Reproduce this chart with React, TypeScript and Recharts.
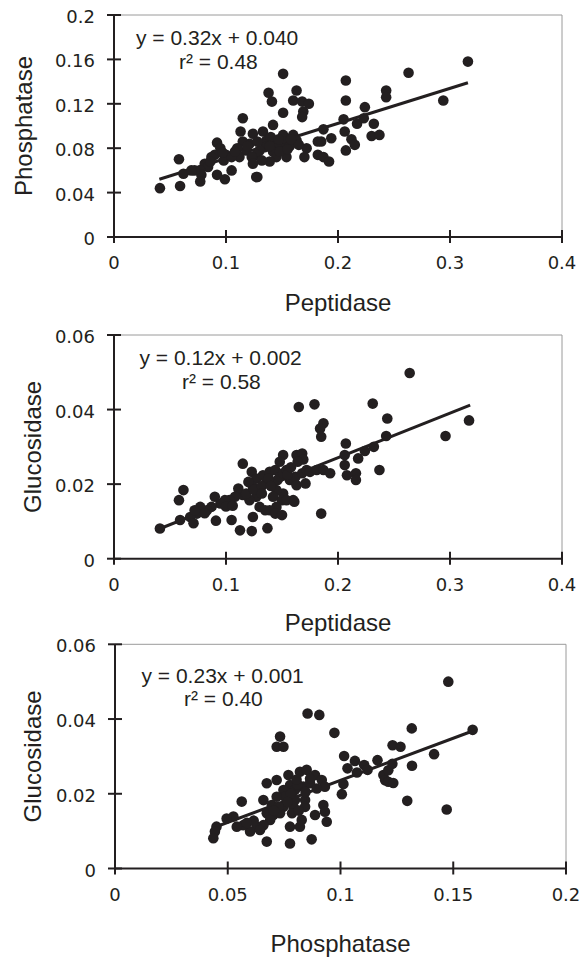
import { ScatterChart, Scatter, XAxis, YAxis, ReferenceLine } from 'recharts';

// x = peptidase, y = phosphatase
const peptidasePhosphatase: [number, number][] = [
  [0.151, 0.147], [0.138, 0.13], [0.141, 0.122], [0.163, 0.132], [0.16, 0.123],
  [0.168, 0.122], [0.174, 0.12], [0.169, 0.113], [0.168, 0.108], [0.151, 0.112],
  [0.207, 0.141], [0.207, 0.123], [0.115, 0.107], [0.142, 0.101], [0.205, 0.106],
  [0.187, 0.097], [0.194, 0.089], [0.206, 0.095], [0.207, 0.078], [0.182, 0.086],
  [0.185, 0.086], [0.172, 0.08], [0.182, 0.074], [0.187, 0.072], [0.192, 0.068],
  [0.17, 0.072], [0.16, 0.092], [0.163, 0.087], [0.151, 0.092], [0.154, 0.086],
  [0.15, 0.08], [0.157, 0.082], [0.145, 0.084], [0.142, 0.077], [0.145, 0.072],
  [0.139, 0.068], [0.133, 0.095], [0.136, 0.087], [0.135, 0.081], [0.13, 0.078],
  [0.127, 0.074], [0.132, 0.069], [0.124, 0.093], [0.121, 0.084], [0.118, 0.078],
  [0.123, 0.072], [0.124, 0.066], [0.127, 0.054], [0.113, 0.095], [0.115, 0.086],
  [0.11, 0.08], [0.112, 0.072], [0.154, 0.072], [0.148, 0.077], [0.105, 0.06],
  [0.1, 0.074], [0.098, 0.069], [0.092, 0.085], [0.095, 0.08], [0.09, 0.074],
  [0.087, 0.072], [0.081, 0.066], [0.084, 0.063], [0.077, 0.06], [0.078, 0.056],
  [0.072, 0.06], [0.058, 0.07], [0.062, 0.057], [0.069, 0.06], [0.077, 0.05],
  [0.092, 0.056], [0.099, 0.052], [0.041, 0.044], [0.059, 0.046], [0.128, 0.054],
  [0.212, 0.088], [0.215, 0.083], [0.217, 0.102], [0.223, 0.107], [0.224, 0.117],
  [0.232, 0.102], [0.23, 0.091], [0.237, 0.092], [0.243, 0.132], [0.243, 0.126],
  [0.263, 0.148], [0.294, 0.123], [0.316, 0.158], [0.14, 0.09], [0.147, 0.088],
  [0.155, 0.079], [0.165, 0.083], [0.128, 0.086], [0.105, 0.072], [0.108, 0.077],
  [0.119, 0.082], [0.139, 0.082], [0.158, 0.088], [0.097, 0.076], [0.086, 0.068],
];

// x = peptidase, y = glucosidase
const peptidaseGlucosidase: [number, number][] = [
  [0.165, 0.0407], [0.179, 0.0414], [0.187, 0.0363], [0.184, 0.0349], [0.185, 0.0327],
  [0.207, 0.0309], [0.151, 0.0278], [0.148, 0.026], [0.163, 0.0278], [0.168, 0.0282],
  [0.169, 0.0266], [0.164, 0.026], [0.115, 0.0255], [0.123, 0.0233], [0.127, 0.0215],
  [0.124, 0.0193], [0.12, 0.0206], [0.133, 0.0224], [0.139, 0.0233], [0.144, 0.0238],
  [0.136, 0.0206], [0.141, 0.0202], [0.146, 0.0211], [0.148, 0.022], [0.151, 0.0229],
  [0.154, 0.0238], [0.157, 0.0211], [0.162, 0.022], [0.168, 0.0229], [0.172, 0.0238],
  [0.175, 0.0233], [0.181, 0.0238], [0.187, 0.0238], [0.193, 0.0229], [0.206, 0.0251],
  [0.208, 0.0224], [0.163, 0.0197], [0.171, 0.0202], [0.16, 0.0157], [0.151, 0.0175],
  [0.145, 0.0184], [0.142, 0.0166], [0.15, 0.0157], [0.145, 0.0139], [0.139, 0.013],
  [0.144, 0.0121], [0.15, 0.0117], [0.154, 0.0157], [0.13, 0.0139], [0.135, 0.013],
  [0.127, 0.0166], [0.121, 0.0157], [0.115, 0.0171], [0.111, 0.0188], [0.108, 0.0166],
  [0.103, 0.0157], [0.099, 0.0157], [0.095, 0.0148], [0.09, 0.0166], [0.087, 0.0139],
  [0.083, 0.013], [0.077, 0.0139], [0.074, 0.0121], [0.068, 0.0112], [0.071, 0.0095],
  [0.059, 0.0104], [0.062, 0.0184], [0.058, 0.0157], [0.041, 0.0081], [0.091, 0.0102],
  [0.105, 0.0104], [0.1125, 0.0076], [0.123, 0.0074], [0.124, 0.0112], [0.137, 0.0082],
  [0.161, 0.0153], [0.185, 0.0121], [0.264, 0.0498], [0.231, 0.0416], [0.244, 0.0376],
  [0.243, 0.0329], [0.317, 0.0371], [0.296, 0.0329], [0.232, 0.03], [0.224, 0.0289],
  [0.218, 0.0269], [0.206, 0.0278], [0.216, 0.0229], [0.216, 0.0211], [0.237, 0.0238],
  [0.118, 0.0175], [0.125, 0.0185], [0.132, 0.0195], [0.138, 0.0215], [0.155, 0.0225],
  [0.158, 0.0245], [0.132, 0.0175], [0.14, 0.0195], [0.1, 0.014], [0.106, 0.0142],
  [0.081, 0.0122], [0.072, 0.013],
];

// x = phosphatase, y = glucosidase
const phosphataseGlucosidase: [number, number][] = [
  [0.0854, 0.0415], [0.0906, 0.0411], [0.0973, 0.0363], [0.0732, 0.0353], [0.0717, 0.0326],
  [0.0747, 0.0326], [0.1231, 0.033], [0.1266, 0.0326], [0.1016, 0.0301], [0.1064, 0.0288],
  [0.1105, 0.0277], [0.1164, 0.029], [0.1031, 0.0268], [0.1073, 0.0257], [0.112, 0.0264],
  [0.119, 0.025], [0.1212, 0.0263], [0.1198, 0.0236], [0.1212, 0.0232], [0.1234, 0.0229],
  [0.123, 0.028], [0.1013, 0.0226], [0.1006, 0.0199], [0.1296, 0.0181], [0.1471, 0.0158],
  [0.1478, 0.05], [0.1586, 0.0371], [0.1316, 0.0375], [0.1415, 0.0306], [0.1317, 0.0275],
  [0.082, 0.0259], [0.085, 0.0264], [0.0887, 0.025], [0.0917, 0.0237], [0.0931, 0.0219],
  [0.0769, 0.025], [0.0717, 0.0237], [0.0673, 0.0228], [0.0776, 0.0223], [0.0747, 0.021],
  [0.0798, 0.021], [0.0835, 0.0219], [0.0865, 0.0228], [0.0895, 0.0214], [0.0754, 0.0192],
  [0.0798, 0.0183], [0.0843, 0.0183], [0.0717, 0.0192], [0.0658, 0.0183], [0.0562, 0.0179],
  [0.0695, 0.017], [0.0747, 0.0165], [0.0791, 0.0165], [0.0843, 0.0165], [0.0887, 0.0143],
  [0.0924, 0.017], [0.0931, 0.0152], [0.0939, 0.0125], [0.0673, 0.0148], [0.0702, 0.0143],
  [0.0732, 0.0148], [0.0688, 0.013], [0.0658, 0.0116], [0.0628, 0.0112], [0.0599, 0.0099],
  [0.0569, 0.0116], [0.054, 0.0112], [0.0525, 0.0139], [0.0495, 0.0134], [0.045, 0.0112],
  [0.0443, 0.0099], [0.0436, 0.0081], [0.0776, 0.0112], [0.082, 0.0112], [0.0828, 0.013],
  [0.0673, 0.0072], [0.0776, 0.0067], [0.0872, 0.0078], [0.0643, 0.0103],
  [0.078, 0.02], [0.081, 0.0225], [0.0845, 0.0205], [0.0765, 0.0178], [0.0725, 0.0165],
  [0.0705, 0.0155], [0.0785, 0.0148], [0.0815, 0.0155], [0.0615, 0.0128], [0.0585, 0.0122],
  [0.0865, 0.024], [0.0805, 0.0238],
];

// regression lines, end points
const fitPepPhos = [{ x: 0.0405, y: 0.052 }, { x: 0.316, y: 0.139 }];
const fitPepGlu = [{ x: 0.043, y: 0.0083 }, { x: 0.318, y: 0.0412 }];
const fitPhosGlu = [{ x: 0.0436, y: 0.0109 }, { x: 0.1586, y: 0.0368 }];

const peptidaseTicks = [0, 0.1, 0.2, 0.3, 0.4];
const phosphataseTicksY = [0, 0.04, 0.08, 0.12, 0.16, 0.2];
const glucosidaseTicks = [0, 0.02, 0.04, 0.06];
const phosphataseTicksX = [0, 0.05, 0.1, 0.15, 0.2];

const INK = '#231f20';
const FONT = '"Liberation Sans", Arial, sans-serif';
const TICK_FONT = '"DejaVu Sans", sans-serif';

const toPoints = (rows: [number, number][]) => rows.map(([x, y]) => ({ x, y }));

const Dot = (p: any) => <circle cx={p.cx} cy={p.cy} r={5.3} fill={INK} />;

const XTick = (p: any) => (
  <g>
    <line x1={p.x} x2={p.x} y1={p.y - 7} y2={p.y + 6} stroke={INK} strokeWidth={2} />
    <text x={p.x} y={p.y + 32} textAnchor="middle" fontFamily={TICK_FONT} fontSize={18} fill={INK}>
      {String(p.payload.value)}
    </text>
  </g>
);

const YTick = (p: any) => (
  <g>
    <line x1={p.x - 7} x2={p.x + 7} y1={p.y} y2={p.y} stroke={INK} strokeWidth={2} />
    <text x={p.x - 19} y={p.y + 8} textAnchor="end" fontFamily={TICK_FONT} fontSize={18} fill={INK}>
      {String(p.payload.value)}
    </text>
  </g>
);

interface PanelProps {
  top: number;
  height: number;
  plot: { l: number; r: number; t: number; b: number };
  data: [number, number][];
  fit: { x: number; y: number }[];
  xMax: number;
  yMax: number;
  xTicks: number[];
  yTicks: number[];
  xTitle: string;
  yTitle: string;
  yTitleX: number;
  xTitleY: number;
  eq: string;
  r2: string;
  eqPos: [number, number];
  r2Pos: [number, number];
}

const Panel = (props: PanelProps) => {
  const { top, height, plot } = props;
  const xAxisH = 40;
  const midX = (plot.l + plot.r) / 2;
  const midY = (plot.t + plot.b) / 2;
  return (
    <div style={{ position: 'absolute', left: 0, top }}>
      <ScatterChart
        width={583}
        height={height}
        margin={{ top: plot.t, right: 583 - plot.r, left: 0, bottom: height - plot.b - xAxisH }}
      >
        <XAxis
          type="number"
          dataKey="x"
          domain={[0, props.xMax]}
          ticks={props.xTicks}
          interval={0}
          allowDataOverflow
          height={xAxisH}
          tickLine={false}
          tickSize={0}
          tickMargin={0}
          axisLine={{ stroke: INK, strokeWidth: 2 }}
          tick={XTick}
        />
        <YAxis
          type="number"
          dataKey="y"
          domain={[0, props.yMax]}
          ticks={props.yTicks}
          interval={0}
          allowDataOverflow
          width={plot.l}
          tickLine={false}
          tickSize={0}
          tickMargin={0}
          axisLine={{ stroke: INK, strokeWidth: 2 }}
          tick={YTick}
        />
        <ReferenceLine y={props.yMax} stroke="#9a9a9a" strokeWidth={1} />
        <ReferenceLine x={props.xMax} stroke="#9a9a9a" strokeWidth={1} />
        <Scatter data={toPoints(props.data)} fill={INK} shape={Dot} isAnimationActive={false} />
        <ReferenceLine segment={props.fit} stroke={INK} strokeWidth={3} ifOverflow="visible" />
        <text x={props.eqPos[0]} y={props.eqPos[1]} fontFamily={FONT} fontSize={21} fill={INK}>
          {props.eq}
        </text>
        <text x={props.r2Pos[0]} y={props.r2Pos[1]} fontFamily={FONT} fontSize={21} fill={INK}>
          {props.r2}
        </text>
        <text
          x={midX}
          y={props.xTitleY}
          textAnchor="middle"
          fontFamily={FONT}
          fontSize={24}
          fill={INK}
        >
          {props.xTitle}
        </text>
        <text
          transform={`translate(${props.yTitleX}, ${midY}) rotate(-90)`}
          textAnchor="middle"
          fontFamily={FONT}
          fontSize={24}
          fill={INK}
        >
          {props.yTitle}
        </text>
      </ScatterChart>
    </div>
  );
};

export default function App() {
  return (
    <div style={{ position: 'absolute', left: 0, top: 0, width: 583, height: 961, background: '#fff' }}>
      <Panel
        top={0}
        height={320}
        plot={{ l: 114, r: 562, t: 15, b: 237 }}
        data={peptidasePhosphatase}
        fit={fitPepPhos}
        xMax={0.4}
        yMax={0.2}
        xTicks={peptidaseTicks}
        yTicks={phosphataseTicksY}
        xTitle="Peptidase"
        yTitle="Phosphatase"
        yTitleX={31.5}
        xTitleY={311}
        eq="y = 0.32x + 0.040"
        r2="r² = 0.48"
        eqPos={[136, 45]}
        r2Pos={[179, 69]}
      />
      <Panel
        top={320}
        height={320}
        plot={{ l: 114, r: 562, t: 15, b: 238.7 }}
        data={peptidaseGlucosidase}
        fit={fitPepGlu}
        xMax={0.4}
        yMax={0.06}
        xTicks={peptidaseTicks}
        yTicks={glucosidaseTicks}
        xTitle="Peptidase"
        yTitle="Glucosidase"
        yTitleX={41}
        xTitleY={311}
        eq="y = 0.12x + 0.002"
        r2="r² = 0.58"
        eqPos={[139.5, 45]}
        r2Pos={[182, 69]}
      />
      <Panel
        top={630}
        height={331}
        plot={{ l: 115, r: 566, t: 14.3, b: 238.5 }}
        data={phosphataseGlucosidase}
        fit={fitPhosGlu}
        xMax={0.2}
        yMax={0.06}
        xTicks={phosphataseTicksX}
        yTicks={glucosidaseTicks}
        xTitle="Phosphatase"
        yTitle="Glucosidase"
        yTitleX={41}
        xTitleY={322}
        eq="y = 0.23x + 0.001"
        r2="r² = 0.40"
        eqPos={[141.5, 53]}
        r2Pos={[184, 76]}
      />
    </div>
  );
}
